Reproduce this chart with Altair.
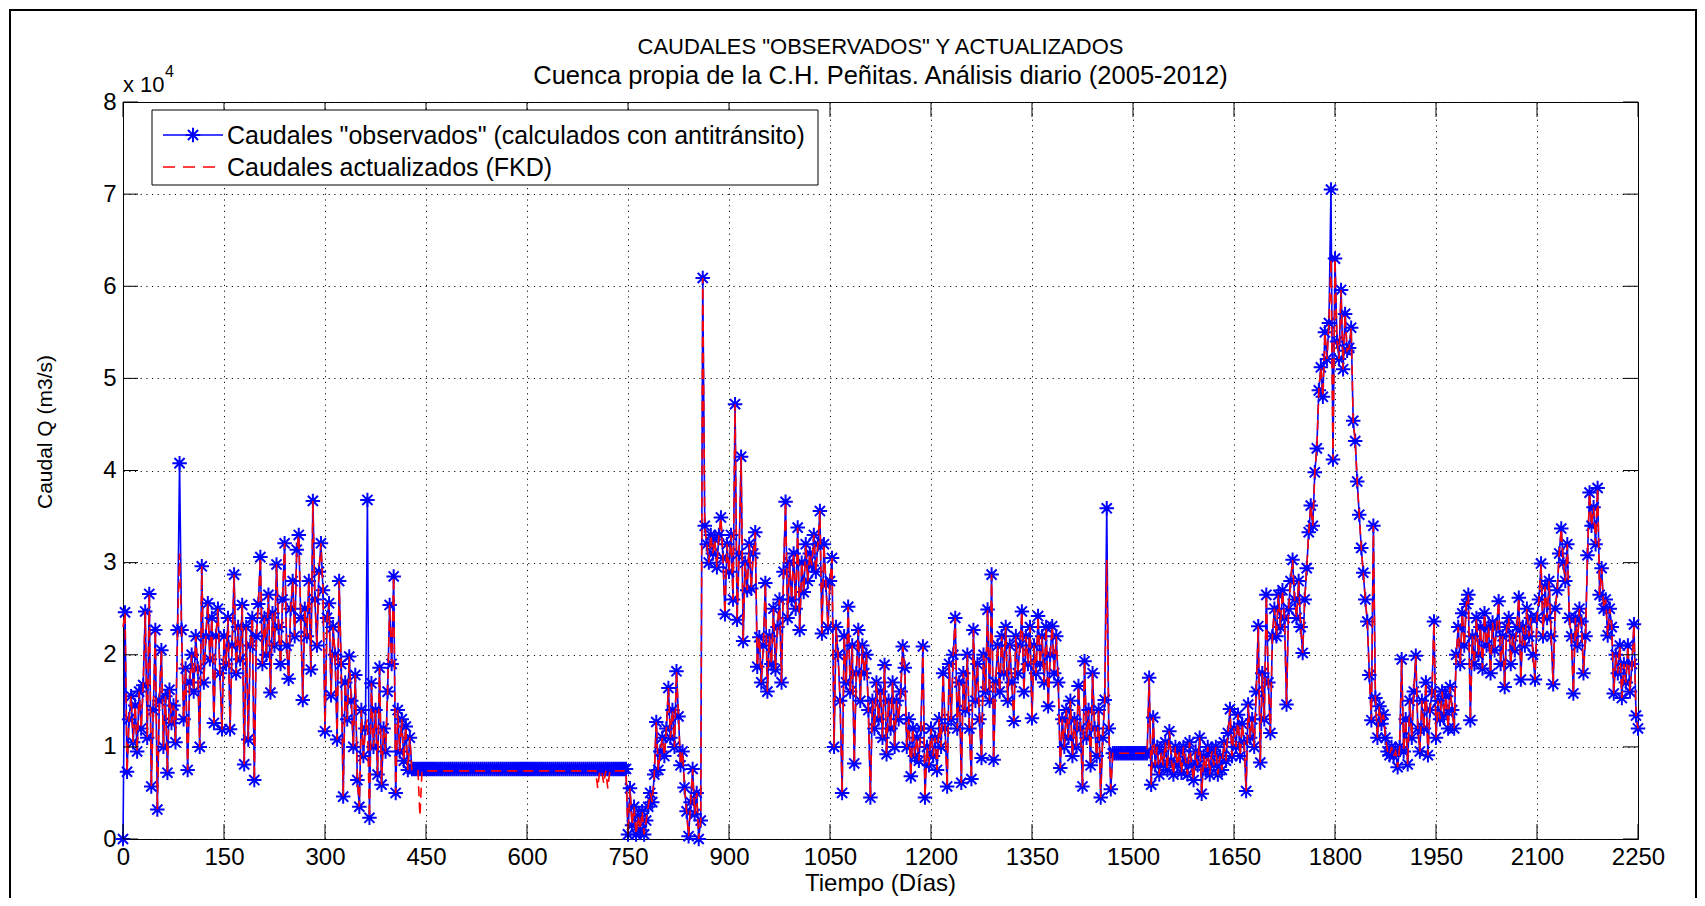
import altair as alt
import pandas as pd

# ---------------- data (values in 10^4 m3/s, one value every 3 days) ----
DIAS = list(range(0, 2251, 3))

OBS = [
    0.00, 2.46, 0.73, 1.30, 1.55, 1.05, 1.45, 0.95, 1.60, 1.20,   # 0
    1.67, 2.47, 1.10, 2.66, 0.57, 1.40, 2.27, 0.32, 1.50, 2.05,   # 30
    1.00, 1.55, 0.72, 1.62, 1.26, 1.45, 1.05, 2.27, 4.08, 2.27,   # 60
    1.30, 1.85, 0.75, 1.70, 2.00, 1.60, 2.20, 1.85, 1.00, 2.96,   # 90
    1.70, 2.20, 2.56, 1.95, 2.40, 1.26, 2.20, 2.50, 1.80, 1.19,   # 120
    2.20, 1.90, 2.40, 1.19, 2.10, 2.87, 1.80, 2.30, 1.95, 2.54,   # 150
    0.81, 2.30, 1.08, 2.10, 2.40, 0.64, 2.20, 2.55, 3.06, 1.90,   # 180
    2.40, 2.00, 2.65, 1.59, 2.45, 2.10, 2.98, 2.30, 1.90, 2.60,   # 210
    3.21, 2.10, 1.74, 2.50, 2.80, 2.20, 3.14, 3.30, 2.40, 1.51,   # 240
    2.50, 2.20, 2.80, 1.84, 3.67, 2.60, 2.10, 2.90, 3.21, 2.70,   # 270
    1.17, 2.40, 2.56, 1.56, 2.30, 2.00, 1.08, 2.80, 1.90, 0.46,   # 300
    1.70, 1.30, 1.98, 1.50, 1.00, 1.78, 0.64, 0.35, 1.40, 0.90,   # 330
    1.20, 3.68, 0.23, 1.69, 1.00, 1.40, 0.70, 1.86, 0.59, 1.20,   # 360
    0.95, 1.60, 2.54, 1.90, 2.85, 0.50, 1.40, 0.95, 1.30, 0.85,   # 390
    1.22, 0.75, 1.10, 0.76, 0.76, 0.76, 0.76, 0.76, 0.76, 0.76,   # 420
    0.76, 0.76, 0.76, 0.76, 0.76, 0.76, 0.76, 0.76, 0.76, 0.76,   # 450
    0.76, 0.76, 0.76, 0.76, 0.76, 0.76, 0.76, 0.76, 0.76, 0.76,   # 480
    0.76, 0.76, 0.76, 0.76, 0.76, 0.76, 0.76, 0.76, 0.76, 0.76,   # 510
    0.76, 0.76, 0.76, 0.76, 0.76, 0.76, 0.76, 0.76, 0.76, 0.76,   # 540
    0.76, 0.76, 0.76, 0.76, 0.76, 0.76, 0.76, 0.76, 0.76, 0.76,   # 570
    0.76, 0.76, 0.76, 0.76, 0.76, 0.76, 0.76, 0.76, 0.76, 0.76,   # 600
    0.76, 0.76, 0.76, 0.76, 0.76, 0.76, 0.76, 0.76, 0.76, 0.76,   # 630
    0.76, 0.76, 0.76, 0.76, 0.76, 0.76, 0.76, 0.76, 0.76, 0.76,   # 660
    0.76, 0.76, 0.76, 0.76, 0.76, 0.76, 0.76, 0.76, 0.76, 0.76,   # 690
    0.76, 0.76, 0.76, 0.76, 0.76, 0.76, 0.76, 0.76, 0.76, 0.76,   # 720
    0.05, 0.55, 0.15, 0.35, 0.05, 0.25, 0.10, 0.30, 0.05, 0.20,   # 750
    0.35, 0.50, 0.40, 0.70, 1.27, 0.75, 0.95, 1.10, 0.90, 1.20,   # 780
    1.64, 1.10, 1.40, 1.00, 1.82, 1.33, 0.80, 0.95, 0.56, 0.30,   # 810
    0.03, 0.40, 0.76, 0.27, 0.50, 0.00, 0.20, 6.09, 3.40, 3.20,   # 840
    3.00, 3.30, 3.10, 3.25, 2.95, 3.30, 3.49, 3.05, 2.44, 3.20,   # 870
    2.90, 3.30, 2.60, 4.72, 2.38, 3.10, 4.15, 2.15, 3.00, 2.70,   # 900
    3.20, 2.72, 3.10, 3.33, 1.87, 2.19, 1.70, 2.10, 2.78, 1.60,   # 930
    2.20, 1.90, 2.50, 1.84, 2.30, 2.60, 1.70, 2.90, 3.66, 2.40,   # 960
    3.00, 2.60, 3.10, 2.50, 3.38, 2.27, 3.00, 2.68, 3.20, 2.80,   # 990
    3.10, 2.97, 3.30, 2.90, 3.20, 3.56, 2.23, 3.20, 2.76, 2.30,   # 1020
    2.80, 3.05, 1.00, 2.30, 2.00, 1.50, 0.50, 2.20, 1.70, 2.52,   # 1050
    1.60, 2.10, 0.82, 1.80, 2.27, 1.50, 2.10, 1.80, 2.00, 1.40,   # 1080
    0.45, 1.50, 1.20, 1.70, 1.30, 1.60, 1.10, 1.89, 0.92, 1.50,   # 1110
    1.20, 1.70, 1.00, 1.50, 1.30, 1.60, 2.09, 1.86, 1.00, 1.30,   # 1140
    0.68, 1.20, 0.90, 1.10, 0.85, 1.20, 2.09, 0.45, 1.00, 0.80,   # 1170
    1.20, 0.90, 1.10, 0.75, 1.30, 1.00, 1.80, 1.20, 0.57, 1.90,   # 1200
    1.30, 2.00, 2.40, 1.20, 1.70, 0.61, 1.80, 1.40, 2.00, 1.20,   # 1230
    0.65, 2.27, 1.50, 1.90, 1.30, 0.88, 2.00, 1.60, 2.49, 1.50,   # 1260
    2.87, 0.86, 1.70, 2.10, 1.60, 2.20, 1.80, 2.30, 1.50, 2.10,   # 1290
    1.70, 1.28, 2.20, 1.80, 2.10, 2.47, 1.60, 2.20, 1.90, 2.30,   # 1320
    1.31, 2.10, 1.80, 2.42, 1.90, 2.20, 1.70, 2.30, 1.44, 2.00,   # 1350
    2.31, 1.80, 2.20, 1.70, 0.77, 1.30, 1.00, 1.40, 1.10, 1.50,   # 1380
    0.90, 1.30, 1.00, 1.66, 1.20, 0.57, 1.93, 1.10, 1.40, 0.80,   # 1410
    1.80, 1.20, 0.90, 1.40, 0.45, 1.10, 1.51, 3.59, 1.20, 0.54,   # 1440
    0.93, 0.93, 0.93, 0.93, 0.93, 0.93, 0.93, 0.93, 0.93, 0.93,   # 1470
    0.93, 0.93, 0.93, 0.93, 0.93, 0.93, 0.93, 0.93, 1.75, 0.59,   # 1500
    1.32, 0.80, 1.00, 0.70, 0.95, 0.80, 1.05, 0.75, 1.17, 0.85,   # 1530
    0.70, 1.00, 0.80, 0.95, 0.72, 1.00, 0.85, 0.70, 1.05, 0.80,   # 1560
    0.64, 0.95, 0.80, 1.10, 0.49, 0.90, 0.75, 1.00, 0.70, 0.95,   # 1590
    0.80, 1.00, 0.70, 0.90, 0.75, 1.05, 0.85, 1.15, 1.41, 0.90,   # 1620
    1.20, 1.00, 1.35, 0.90, 1.25, 1.05, 0.52, 1.46, 1.10, 1.30,   # 1650
    1.00, 1.60, 2.31, 0.83, 1.80, 1.30, 2.65, 1.70, 1.15, 2.20,   # 1680
    2.50, 2.20, 2.65, 2.30, 2.70, 2.40, 1.46, 2.50, 2.80, 3.03,   # 1710
    2.60, 2.40, 2.80, 2.30, 2.02, 2.60, 2.94, 3.33, 3.62, 3.40,   # 1740
    3.98, 4.24, 4.87, 5.12, 4.80, 5.50, 5.21, 5.60, 7.05, 4.12,   # 1770
    6.30, 5.40, 5.21, 5.96, 5.10, 5.70, 5.30, 5.33, 5.55, 4.54,   # 1800
    4.32, 3.88, 3.52, 3.16, 2.89, 2.60, 2.36, 1.78, 1.29, 3.40,   # 1830
    1.53, 1.10, 1.44, 1.25, 1.35, 1.10, 0.95, 0.91, 1.00, 0.90,   # 1860
    0.95, 0.78, 1.00, 1.95, 0.95, 1.30, 0.81, 1.50, 1.10, 1.60,   # 1890
    1.99, 1.20, 0.95, 1.50, 1.20, 1.70, 0.91, 1.40, 1.60, 2.36,   # 1920
    1.10, 1.50, 1.30, 1.60, 1.35, 1.55, 1.20, 1.65, 1.40, 1.20,   # 1950
    2.00, 2.30, 1.90, 2.45, 2.10, 2.55, 2.65, 1.29, 2.20, 1.90,   # 1980
    2.40, 2.00, 2.30, 1.85, 2.45, 2.10, 2.30, 1.80, 2.35, 2.05,   # 2010
    2.30, 2.58, 1.90, 2.20, 1.65, 2.30, 2.40, 1.90, 2.20, 2.05,   # 2040
    2.30, 2.62, 1.73, 2.30, 2.10, 2.50, 2.20, 2.40, 2.00, 1.73,   # 2070
    2.40, 2.60, 2.99, 2.20, 2.74, 2.40, 2.80, 2.20, 1.68, 2.50,   # 2100
    2.70, 3.10, 3.37, 3.00, 2.80, 3.20, 2.40, 2.20, 1.58, 2.40,   # 2130
    2.10, 2.50, 2.36, 1.80, 2.20, 3.08, 3.76, 3.40, 3.60, 3.20,   # 2160
    3.81, 2.65, 2.94, 2.50, 2.60, 2.21, 2.50, 2.30, 1.58, 2.00,   # 2190
    1.80, 2.10, 1.53, 1.90, 1.70, 2.10, 1.60, 1.90, 2.33, 1.34,   # 2220
    1.20,                                                         # 2250
]

FKD = [
    2.30, 2.46, 0.73, 1.30, 1.55, 1.05, 1.45, 0.95, 1.60, 1.20,   # 0
    1.67, 2.47, 1.10, 2.66, 0.57, 1.40, 2.27, 0.32, 1.50, 2.05,   # 30
    1.00, 1.55, 0.72, 1.62, 1.26, 1.45, 1.05, 2.27, 3.10, 2.27,   # 60
    1.30, 1.85, 0.75, 1.70, 2.00, 1.60, 2.20, 1.85, 1.00, 2.96,   # 90
    1.70, 2.20, 2.56, 1.95, 2.40, 1.26, 2.20, 2.50, 1.80, 1.19,   # 120
    2.20, 1.90, 2.40, 1.19, 2.10, 2.87, 1.80, 2.30, 1.95, 2.54,   # 150
    0.81, 2.30, 1.08, 2.10, 2.40, 0.64, 2.20, 2.55, 3.06, 1.90,   # 180
    2.40, 2.00, 2.65, 1.59, 2.45, 2.10, 2.98, 2.30, 1.90, 2.60,   # 210
    3.21, 2.10, 1.74, 2.50, 2.80, 2.20, 3.14, 3.30, 2.40, 1.51,   # 240
    2.50, 2.20, 2.80, 1.84, 3.67, 2.60, 2.10, 2.90, 3.21, 2.70,   # 270
    1.17, 2.40, 2.56, 1.56, 2.30, 2.00, 1.08, 2.80, 1.90, 0.46,   # 300
    1.70, 1.30, 1.98, 1.50, 1.00, 1.78, 0.64, 0.35, 1.40, 0.90,   # 330
    1.20, 1.30, 0.23, 1.69, 1.00, 1.40, 0.70, 1.86, 0.59, 1.20,   # 360
    0.95, 1.60, 2.54, 1.90, 2.85, 0.50, 1.40, 0.95, 1.30, 0.85,   # 390
    1.22, 0.75, 1.10, 0.74, 0.74, 0.74, 0.74, 0.25, 0.74, 0.74,   # 420
    0.74, 0.74, 0.74, 0.74, 0.74, 0.74, 0.74, 0.74, 0.74, 0.74,   # 450
    0.74, 0.74, 0.74, 0.74, 0.74, 0.74, 0.74, 0.74, 0.74, 0.74,   # 480
    0.74, 0.74, 0.74, 0.74, 0.74, 0.74, 0.74, 0.74, 0.74, 0.74,   # 510
    0.74, 0.74, 0.74, 0.74, 0.74, 0.74, 0.74, 0.74, 0.74, 0.74,   # 540
    0.74, 0.74, 0.74, 0.74, 0.74, 0.74, 0.74, 0.74, 0.74, 0.74,   # 570
    0.74, 0.74, 0.74, 0.74, 0.74, 0.74, 0.74, 0.74, 0.74, 0.74,   # 600
    0.74, 0.74, 0.74, 0.74, 0.74, 0.74, 0.74, 0.74, 0.74, 0.74,   # 630
    0.74, 0.74, 0.74, 0.74, 0.74, 0.74, 0.74, 0.74, 0.74, 0.74,   # 660
    0.74, 0.74, 0.74, 0.74, 0.74, 0.55, 0.74, 0.74, 0.60, 0.74,   # 690
    0.55, 0.74, 0.74, 0.74, 0.74, 0.74, 0.74, 0.74, 0.74, 0.74,   # 720
    0.05, 0.55, 0.15, 0.35, 0.05, 0.25, 0.10, 0.30, 0.05, 0.20,   # 750
    0.35, 0.50, 0.40, 0.70, 1.27, 0.75, 0.95, 1.10, 0.90, 1.20,   # 780
    1.64, 1.10, 1.40, 1.00, 1.82, 1.33, 0.80, 0.95, 0.56, 0.30,   # 810
    0.03, 0.40, 0.76, 0.27, 0.50, 0.00, 0.20, 6.09, 3.40, 3.20,   # 840
    3.00, 3.30, 3.10, 3.25, 2.95, 3.30, 3.49, 3.05, 2.44, 3.20,   # 870
    2.90, 3.30, 2.60, 4.72, 2.38, 3.10, 4.15, 2.15, 3.00, 2.70,   # 900
    3.20, 2.72, 3.10, 3.33, 1.87, 2.19, 1.70, 2.10, 2.78, 1.60,   # 930
    2.20, 1.90, 2.50, 1.84, 2.30, 2.60, 1.70, 2.90, 3.66, 2.40,   # 960
    3.00, 2.60, 3.10, 2.50, 3.38, 2.27, 3.00, 2.68, 3.20, 2.80,   # 990
    3.10, 2.97, 3.30, 2.90, 3.20, 3.56, 2.23, 3.20, 2.76, 2.30,   # 1020
    2.80, 3.05, 1.00, 2.30, 2.00, 1.50, 0.50, 2.20, 1.70, 2.52,   # 1050
    1.60, 2.10, 0.82, 1.80, 2.27, 1.50, 2.10, 1.80, 2.00, 1.40,   # 1080
    0.45, 1.50, 1.20, 1.70, 1.30, 1.60, 1.10, 1.89, 0.92, 1.50,   # 1110
    1.20, 1.70, 1.00, 1.50, 1.30, 1.60, 2.09, 1.86, 1.00, 1.30,   # 1140
    0.68, 1.20, 0.90, 1.10, 0.85, 1.20, 2.09, 0.45, 1.00, 0.80,   # 1170
    1.20, 0.90, 1.10, 0.75, 1.30, 1.00, 1.80, 1.20, 0.57, 1.90,   # 1200
    1.30, 2.00, 2.40, 1.20, 1.70, 0.61, 1.80, 1.40, 2.00, 1.20,   # 1230
    0.65, 2.27, 1.50, 1.90, 1.30, 0.88, 2.00, 1.60, 2.49, 1.50,   # 1260
    2.87, 0.86, 1.70, 2.10, 1.60, 2.20, 1.80, 2.30, 1.50, 2.10,   # 1290
    1.70, 1.28, 2.20, 1.80, 2.10, 2.47, 1.60, 2.20, 1.90, 2.30,   # 1320
    1.31, 2.10, 1.80, 2.42, 1.90, 2.20, 1.70, 2.30, 1.44, 2.00,   # 1350
    2.31, 1.80, 2.20, 1.70, 0.77, 1.30, 1.00, 1.40, 1.10, 1.50,   # 1380
    0.90, 1.30, 1.00, 1.66, 1.20, 0.57, 1.93, 1.10, 1.40, 0.80,   # 1410
    1.80, 1.20, 0.90, 1.40, 0.45, 1.10, 1.51, 3.03, 1.20, 0.54,   # 1440
    0.93, 0.93, 0.93, 0.93, 0.93, 0.93, 0.93, 0.93, 0.93, 0.93,   # 1470
    0.93, 0.93, 0.93, 0.93, 0.93, 0.93, 0.93, 0.93, 1.75, 0.59,   # 1500
    1.32, 0.80, 1.00, 0.70, 0.95, 0.80, 1.05, 0.75, 1.17, 0.85,   # 1530
    0.70, 1.00, 0.80, 0.95, 0.72, 1.00, 0.85, 0.70, 1.05, 0.80,   # 1560
    0.64, 0.95, 0.80, 1.10, 0.49, 0.90, 0.75, 1.00, 0.70, 0.95,   # 1590
    0.80, 1.00, 0.70, 0.90, 0.75, 1.05, 0.85, 1.15, 1.41, 0.90,   # 1620
    1.20, 1.00, 1.35, 0.90, 1.25, 1.05, 0.52, 1.46, 1.10, 1.30,   # 1650
    1.00, 1.60, 2.31, 0.83, 1.80, 1.30, 2.65, 1.70, 1.15, 2.20,   # 1680
    2.50, 2.20, 2.65, 2.30, 2.70, 2.40, 1.46, 2.50, 2.80, 3.03,   # 1710
    2.60, 2.40, 2.80, 2.30, 2.02, 2.60, 2.94, 3.33, 3.62, 3.40,   # 1740
    3.98, 4.24, 4.87, 5.12, 4.80, 5.50, 5.21, 5.60, 6.30, 4.12,   # 1770
    6.30, 5.40, 5.21, 5.96, 5.10, 5.70, 5.30, 5.33, 5.55, 4.54,   # 1800
    4.32, 3.88, 3.52, 3.16, 2.89, 2.60, 2.36, 1.78, 1.29, 3.40,   # 1830
    1.53, 1.10, 1.44, 1.25, 1.35, 1.10, 0.95, 0.91, 1.00, 0.90,   # 1860
    0.95, 0.78, 1.00, 1.95, 0.95, 1.30, 0.81, 1.50, 1.10, 1.60,   # 1890
    1.99, 1.20, 0.95, 1.50, 1.20, 1.70, 0.91, 1.40, 1.60, 2.36,   # 1920
    1.10, 1.50, 1.30, 1.60, 1.35, 1.55, 1.20, 1.65, 1.40, 1.20,   # 1950
    2.00, 2.30, 1.90, 2.45, 2.10, 2.55, 2.65, 1.29, 2.20, 1.90,   # 1980
    2.40, 2.00, 2.30, 1.85, 2.45, 2.10, 2.30, 1.80, 2.35, 2.05,   # 2010
    2.30, 2.58, 1.90, 2.20, 1.65, 2.30, 2.40, 1.90, 2.20, 2.05,   # 2040
    2.30, 2.62, 1.73, 2.30, 2.10, 2.50, 2.20, 2.40, 2.00, 1.73,   # 2070
    2.40, 2.60, 2.99, 2.20, 2.74, 2.40, 2.80, 2.20, 1.68, 2.50,   # 2100
    2.70, 3.10, 3.37, 3.00, 2.80, 3.20, 2.40, 2.20, 1.58, 2.40,   # 2130
    2.10, 2.50, 2.36, 1.80, 2.20, 3.08, 3.76, 3.40, 3.60, 3.20,   # 2160
    3.81, 2.65, 2.94, 2.50, 2.60, 2.21, 2.50, 2.30, 1.58, 2.00,   # 2190
    1.80, 2.10, 1.53, 1.90, 1.70, 2.10, 1.60, 1.90, 2.33, 1.34,   # 2220
    1.20,                                                         # 2250
]

X_TICKS = [0, 150, 300, 450, 600, 750, 900, 1050, 1200, 1350, 1500, 1650, 1800, 1950, 2100, 2250]
Y_TICKS = [0, 1, 2, 3, 4, 5, 6, 7, 8]

TITLE = 'CAUDALES "OBSERVADOS" Y ACTUALIZADOS'
SUBTITLE = "Cuenca propia de la C.H. Peñitas. Análisis diario (2005-2012)"
X_TITLE = "Tiempo (Días)"
Y_TITLE = "Caudal Q (m3/s)"
LEGEND_LABELS = ['Caudales "observados" (calculados con antitránsito)',
                 "Caudales actualizados (FKD)"]

assert len(OBS) == len(DIAS) == len(FKD)

# ---------------- layout ----------------
W, H = 1515, 737
FONT = "Liberation Sans"
FS = 25
LFS = 24
TICK = 15
BLUE = "#0000ff"
RED = "#ff0000"
ASTERISK = "M-1,0L1,0M0,-1L0,1M-0.7,-0.7L0.7,0.7M-0.7,0.7L0.7,-0.7"
MSIZE = 210
MSTROKE = 2
DASH = [10, 6]

df = pd.DataFrame({"dia": DIAS, "obs": OBS, "fkd": FKD})
xt = pd.DataFrame({"dia": X_TICKS})
yt = pd.DataFrame({"q": Y_TICKS})
one = pd.DataFrame({"k": [0]})

x_scale = alt.Scale(domain=[0, 2250], nice=False, zero=False)
y_scale = alt.Scale(domain=[0, 8], nice=False, zero=False)

x_axis = alt.Axis(values=X_TICKS, format="d", grid=True, gridDash=[1.2, 4.5], gridColor="#111",
                  gridWidth=1, gridOpacity=1, ticks=False, tickSize=0, domain=False,
                  labelFont=FONT, labelFontSize=LFS, labelColor="#000", labelPadding=6,
                  labelFlush=False, labelOverlap=False, title=None)
y_axis = alt.Axis(values=Y_TICKS, format="d", grid=True, gridDash=[1.2, 4.5], gridColor="#111",
                  gridWidth=1, gridOpacity=1, ticks=False, tickSize=0, domain=False,
                  labelFont=FONT, labelFontSize=LFS, labelColor="#000", labelPadding=7,
                  labelFlush=False, labelOverlap=False, title=None)

X = alt.X("dia:Q", scale=x_scale, axis=x_axis)

base = alt.Chart(df)
blue_line = base.mark_line(color=BLUE, strokeWidth=1.6).encode(
    x=X, y=alt.Y("obs:Q", scale=y_scale, axis=y_axis))
blue_pts = base.mark_point(shape=ASTERISK, size=MSIZE, color=BLUE, strokeWidth=MSTROKE,
                           filled=False, opacity=1).encode(
    x=X, y=alt.Y("obs:Q", scale=y_scale, axis=y_axis))
red_line = base.mark_line(color=RED, strokeWidth=1.6, strokeDash=DASH).encode(
    x=X, y=alt.Y("fkd:Q", scale=y_scale, axis=y_axis))

# inward ticks on all four sides
tick_b = alt.Chart(xt).mark_rule(color="#000", strokeWidth=1).encode(
    x=X, y=alt.value(H), y2=alt.value(H - TICK))
tick_t = alt.Chart(xt).mark_rule(color="#000", strokeWidth=1).encode(
    x=X, y=alt.value(0), y2=alt.value(TICK))
tick_l = alt.Chart(yt).mark_rule(color="#000", strokeWidth=1).encode(
    y=alt.Y("q:Q", scale=y_scale, axis=y_axis), x=alt.value(0), x2=alt.value(TICK))
tick_r = alt.Chart(yt).mark_rule(color="#000", strokeWidth=1).encode(
    y=alt.Y("q:Q", scale=y_scale, axis=y_axis), x=alt.value(W), x2=alt.value(W - TICK))

# legend
o = alt.Chart(one)
leg_box = o.mark_rect(fill="white", stroke="#000", strokeWidth=1).encode(
    x=alt.value(29), x2=alt.value(695), y=alt.value(8), y2=alt.value(83))
leg_l1 = o.mark_rule(color=BLUE, strokeWidth=1.6).encode(
    x=alt.value(40), x2=alt.value(100), y=alt.value(33))
leg_p1 = o.mark_point(shape=ASTERISK, size=MSIZE, color=BLUE, strokeWidth=MSTROKE, filled=False,
                      opacity=1).encode(x=alt.value(70), y=alt.value(33))
leg_l2 = o.mark_rule(color=RED, strokeWidth=1.6, strokeDash=[12, 8]).encode(
    x=alt.value(40), x2=alt.value(100), y=alt.value(65))
leg_t1 = o.mark_text(align="left", baseline="middle", font=FONT, fontSize=FS, color="#000").encode(
    x=alt.value(104), y=alt.value(34), text=alt.value(LEGEND_LABELS[0]))
leg_t2 = o.mark_text(align="left", baseline="middle", font=FONT, fontSize=FS, color="#000").encode(
    x=alt.value(104), y=alt.value(66), text=alt.value(LEGEND_LABELS[1]))

# titles and annotations
t1 = o.mark_text(align="center", baseline="middle", font=FONT, fontSize=22, color="#000").encode(
    x=alt.value(W / 2), y=alt.value(-55), text=alt.value(TITLE))
t2 = o.mark_text(align="center", baseline="middle", font=FONT, fontSize=25.5, color="#000").encode(
    x=alt.value(W / 2), y=alt.value(-26), text=alt.value(SUBTITLE))
xt_title = o.mark_text(align="center", baseline="middle", font=FONT, fontSize=LFS, color="#000").encode(
    x=alt.value(W / 2), y=alt.value(782), text=alt.value(X_TITLE))
yt_title = o.mark_text(align="center", baseline="middle", font=FONT, fontSize=21, color="#000",
                       angle=270).encode(
    x=alt.value(-77), y=alt.value(330), text=alt.value(Y_TITLE))
exp_a = o.mark_text(align="left", baseline="middle", font=FONT, fontSize=FS - 3, color="#000").encode(
    x=alt.value(0), y=alt.value(-17), text=alt.value("x 10"))
exp_b = o.mark_text(align="left", baseline="middle", font=FONT, fontSize=16, color="#000").encode(
    x=alt.value(42), y=alt.value(-30), text=alt.value("4"))

frame = o.mark_rect(filled=False, color="#000", strokeWidth=2).encode(
    x=alt.value(-113), x2=alt.value(1573), y=alt.value(-92), y2=alt.value(830))

chart = alt.layer(
    blue_line, blue_pts, red_line,
    tick_b, tick_t, tick_l, tick_r,
    leg_box, leg_l1, leg_p1, leg_l2, leg_t1, leg_t2,
    t1, t2, xt_title, yt_title, exp_a, exp_b, frame,
).properties(
    width=W, height=H,
    padding={"left": 115, "top": 94, "right": 59, "bottom": 59},
    autosize=alt.AutoSizeParams(type="none"),
    background="white",
).configure_view(stroke="#000", strokeWidth=1)

chart.save("out.html", embed_options={"renderer": "svg", "actions": False})
